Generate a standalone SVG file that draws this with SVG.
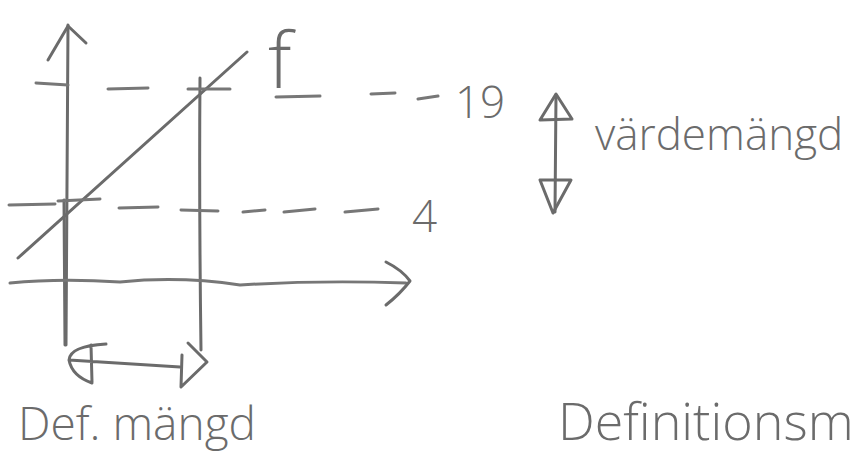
<svg xmlns="http://www.w3.org/2000/svg" width="854" height="459" viewBox="0 0 854 459">
<style>
.s{fill:none;stroke:#6b6b6b;stroke-width:3;stroke-linecap:round;stroke-linejoin:round}
.d{fill:none;stroke:#777;stroke-width:3;stroke-linecap:round}
.t{fill:#6b6b6b;font-family:"Open Sans","DejaVu Sans",sans-serif;font-weight:300}
</style>
<rect width="854" height="459" fill="#fff"/>
<g id="axes">
<path class="s" d="M68,25 Q67,180 66,345"/>
<path class="s" d="M48,60 L68,26 L86,43"/>
<path class="s" d="M64,200 L65,345" stroke-width="5"/>
<path class="s" d="M200,78 Q199,200 201,350"/>
<path class="d" d="M10,283 Q60,278 120,282 Q180,276 240,285 Q320,280 406,283"/>
<path class="s" d="M386,262 Q402,270 410,281 Q400,294 386,305"/>
</g>
<g id="graph-f">
<path class="s" d="M18,258 L247,52"/>
<text class="t" x="268" y="88" font-size="78">f</text>
<path class="d" d="M276,97 L320,96"/>
</g>
<g id="dashes">
<path class="d" d="M36,83 L68,85 M108,89 L148,88 M188,89 L230,89 M371,94 L395,93 M418,99 L438,96"/>
<path class="d" d="M9,205 L55,204 M58,201 L100,199 M119,208 L158,207 M181,210 L218,211 M243,212 L265,210 M284,212 L315,209 M345,212 L378,209"/>
<text class="t" x="455" y="118" font-size="44">19</text>
<text class="t" x="412" y="232" font-size="44">4</text>
</g>
<g id="range-arrow">
<path class="s" d="M556,95 L555,212"/>
<path class="s" d="M556,94 L540,120 L572,119 Z"/>
<path class="s" d="M540,180 L571,180 L553,213 Z"/>
<text class="t" x="595" y="150" font-size="44">värdemängd</text>
</g>
<g id="domain-arrow">
<path class="s" d="M106,344 Q70,346 69,360 Q72,376 92,383 M91,345 L92,382 M69,360 L180,367"/>
<path class="s" d="M188,343 L207,362 L181,387 L182,355"/>
<text class="t" x="18" y="440" font-size="46">Def. mängd</text>
</g>
<g id="definition-text">
<text class="t" x="558" y="440" font-size="52">Definitionsm</text>
</g>
</svg>
